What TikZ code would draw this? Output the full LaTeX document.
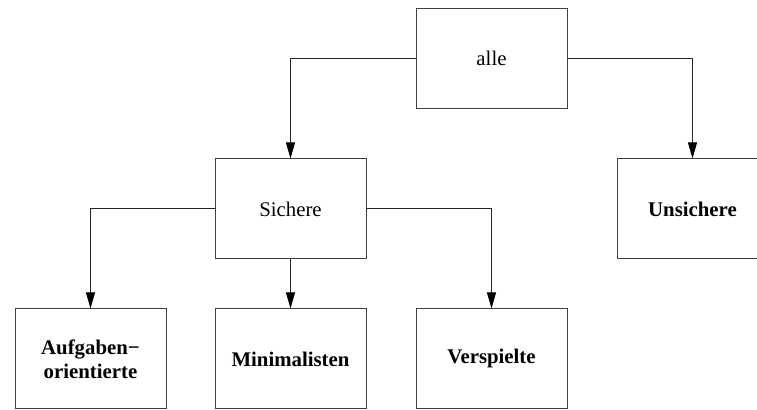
\documentclass[tikz,border=0pt]{standalone}
\usepackage{fontspec}
\setmainfont{Liberation Serif}
\usetikzlibrary{arrows.meta}
\begin{document}
\begin{tikzpicture}[x=0.5pt,y=-0.5pt,
  box/.style={draw=black!75, line width=0.5pt, minimum width=75.5pt, minimum height=50pt,
    inner sep=0pt, align=center, font=\fontsize{10.4}{12}\selectfont},
  leaf/.style={box, font=\fontsize{10.4}{12}\selectfont\bfseries},
  link/.style={line width=0.5pt, draw=black!85,
    -{Triangle[length=8pt,width=4.5pt,color=black]}}]
\useasboundingbox (0,0) rectangle (757,410);
\clip (0,0) rectangle (757,410);
% hierarchy boxes
\node[box]  (alle) at (491.5,58.5) {alle};
\node[box]  (sich) at (290.5,209) {Sichere};
\node[leaf] (unsi) at (692.5,209) {Unsichere};
\node[leaf] (aufg) at (90.5,359) {Aufgaben−\\orientierte};
\node[leaf] (mini) at (290.5,359) {Minimalisten};
\node[leaf] (vers) at (491.5,359) {Verspielte};
% connectors
\draw[link] (alle.west) -| (sich.north);
\draw[link] (alle.east) -| (unsi.north);
\draw[link] (sich.west) -| (aufg.north);
\draw[link] (sich.south) -- (mini.north);
\draw[link] (sich.east) -| (vers.north);
\end{tikzpicture}
\end{document}
